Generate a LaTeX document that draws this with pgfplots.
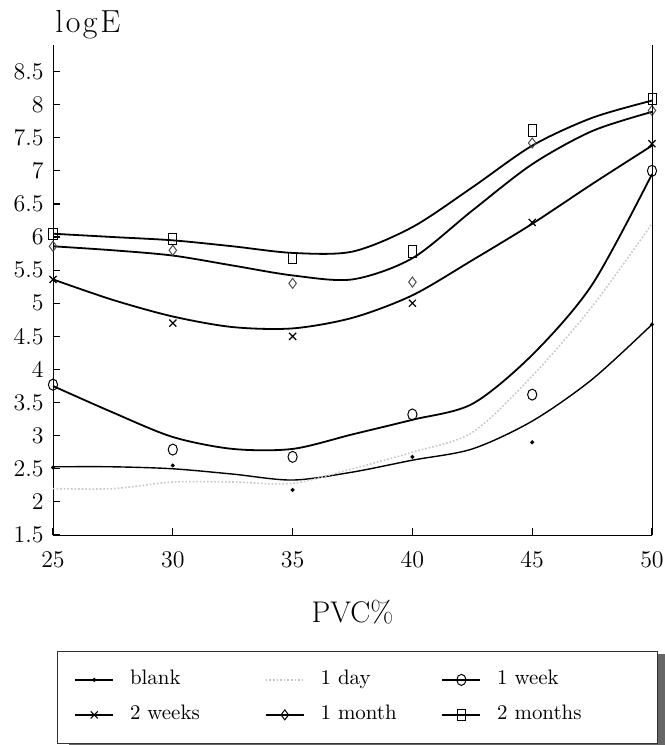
\documentclass[border=0pt]{standalone}
\usepackage{pgfplots}
\usepackage{pgfplotstable}
\pgfplotsset{compat=1.18}

% measured data points
\pgfplotstableread{
x y
25 2.52
30 2.55
35 2.18
40 2.68
45 2.90
50 4.68
}\blankpts
\pgfplotstableread{
x y
25 3.77
30 2.79
35 2.68
40 3.32
45 3.62
50 7.00
}\weekpts
\pgfplotstableread{
x y
25 5.36
30 4.70
35 4.50
40 5.00
45 6.22
50 7.41
}\twoweekpts
\pgfplotstableread{
x y
25 5.86
30 5.80
35 5.30
40 5.32
45 7.42
50 7.91
}\monthpts
\pgfplotstableread{
x y
25 6.05
30 5.97
35 5.68
40 5.78
45 7.61
50 8.08
}\twomonthpts

% fitted curves
\pgfplotstableread{
x y
25 2.53
27.5 2.53
30 2.50
32.5 2.42
35 2.33
37.5 2.45
40 2.63
42.5 2.80
45 3.22
47.5 3.85
50 4.68
}\blankcurve
\pgfplotstableread{
x y
25 2.20
27.5 2.20
30 2.30
32.5 2.30
35 2.28
37.5 2.50
40 2.75
42.5 3.05
45 3.90
47.5 4.95
50 6.20
}\daycurve
\pgfplotstableread{
x y
25 3.75
27.5 3.35
30 2.98
32.5 2.80
35 2.80
37.5 3.02
40 3.24
42.5 3.48
45 4.22
47.5 5.28
50 6.95
}\weekcurve
\pgfplotstableread{
x y
25 5.36
27.5 5.05
30 4.80
32.5 4.64
35 4.62
37.5 4.78
40 5.12
42.5 5.65
45 6.20
47.5 6.80
50 7.38
}\twoweekcurve
\pgfplotstableread{
x y
25 5.86
27.5 5.80
30 5.72
32.5 5.57
35 5.42
37.5 5.36
40 5.68
42.5 6.40
45 7.10
47.5 7.60
50 7.89
}\monthcurve
\pgfplotstableread{
x y
25 6.05
27.5 6.00
30 5.95
32.5 5.86
35 5.76
37.5 5.78
40 6.15
42.5 6.75
45 7.38
47.5 7.80
50 8.06
}\twomonthcurve

\newcommand{\tk}{\fontsize{11.5}{13}\selectfont}

\pgfplotsset{
  lgd/.style 2 args={legend image code/.code={
      \draw[line width=0.8bp,black] (0bp,0bp) -- (19bp,0bp);
      \draw[black,line width=0.5bp] plot[only marks, mark=#1, mark options={solid,#2}] coordinates {(9.5bp,0bp)};}},
  lgdplain/.style={legend image code/.code={
      \draw[#1] (0bp,0bp) -- (19bp,0bp);}},
}

\begin{document}
\begin{tikzpicture}
\useasboundingbox (-26.5bp,-105bp) rectangle (306bp,267.5bp);
\begin{axis}[
  name=ax, at={(0,0)}, anchor=south west,
  scale only axis, width=299.5bp, height=245bp,
  xmin=25, xmax=50, ymin=1.5, ymax=8.9,
  clip=false,
  axis lines=left,
  axis line style={-, line width=0.5bp, black},
  xtick={25,30,35,40,45,50},
  ytick={1.5,2,2.5,3,3.5,4,4.5,5,5.5,6,6.5,7,7.5,8,8.5},
  tick align=inside, major tick length=3.5bp,
  tick style={line width=0.6bp, black},
  x tick label style={anchor=base, inner sep=0pt, yshift=-16bp, font=\tk},
  y tick label style={anchor=east, inner sep=0pt, xshift=-4.5bp, font=\tk},
  xlabel={PVC\%},
  every axis x label/.style={at={(axis description cs:0.5,0)}, anchor=base, yshift=-43.5bp, inner sep=0pt, font=\fontsize{15}{18}\selectfont},
  legend columns=3, legend cell align=left,
  legend style={name=lgd, at={(0.00668,-0.2367)}, anchor=north west, draw=black!80, line width=0.4bp, fill=white,
    inner xsep=8.5bp, inner ysep=9.75bp, column sep=0pt, row sep=8.5bp,
    font=\fontsize{10.5}{12}\selectfont,
    nodes={inner sep=0pt, text height=7bp, text depth=2bp}},
]
% curves (carry legend)
\addplot[smooth, black, line width=0.7bp, lgd={*}{mark size=0.8bp}] table {\blankcurve};
\addlegendentry{\makebox[75.5bp][l]{\hspace{8bp}blank}}
\addplot[smooth, black!22, densely dotted, line width=0.8bp, lgdplain] table {\daycurve};
\addlegendentry{\makebox[68.5bp][l]{\hspace{8bp}1 day}}
\addplot[smooth, black, line width=0.9bp, lgd={o}{mark size=2.3bp, yscale=1.2}] table {\weekcurve};
\addlegendentry{\makebox[79.5bp][l]{\hspace{8bp}1 week}}
\addplot[smooth, black, line width=0.9bp, lgd={x}{mark size=2.5bp}] table {\twoweekcurve};
\addlegendentry{\makebox[75.5bp][l]{\hspace{8bp}2 weeks}}
\addplot[smooth, black, line width=0.9bp, lgd={diamond}{mark size=2.5bp}] table {\monthcurve};
\addlegendentry{\makebox[68.5bp][l]{\hspace{8bp}1 month}}
\addplot[smooth, black, line width=0.9bp, lgd={square}{mark size=2bp, yscale=1.4}] table {\twomonthcurve};
\addlegendentry{\makebox[79.5bp][l]{\hspace{8bp}2 months}}

% data points
\addplot[forget plot, only marks, mark=*, mark size=0.8bp, black] table {\blankpts};
\addplot[forget plot, only marks, mark=o, mark size=2.3bp, mark options={black, line width=0.5bp, yscale=1.2}] table {\weekpts};
\addplot[forget plot, only marks, mark=x, mark size=2.5bp, mark options={black, line width=0.6bp}] table {\twoweekpts};
\addplot[forget plot, only marks, mark=diamond, mark size=2.5bp, mark options={black!70, line width=0.5bp}] table {\monthpts};
\addplot[forget plot, only marks, mark=square, mark size=2bp, mark options={black, line width=0.5bp, yscale=1.4}] table {\twomonthpts};
\end{axis}
\draw[line width=0.5bp, black] (ax.south east) -- (ax.north east);
\node[anchor=base west, inner sep=0pt, xshift=1bp, yshift=6bp, font=\fontsize{16}{19}\selectfont]
  at (ax.north west) {l\kern1.2bp o\kern1.2bp g\kern1.5bp E};
% legend shadow (right and bottom bands)
\fill[black!60] ([yshift=-1.5bp]lgd.north east) rectangle ([xshift=6bp,yshift=-1.5bp]lgd.south east);
\fill[black!60] ([xshift=6bp]lgd.south west) rectangle ([xshift=6bp,yshift=-1.5bp]lgd.south east);
\end{tikzpicture}
\end{document}
